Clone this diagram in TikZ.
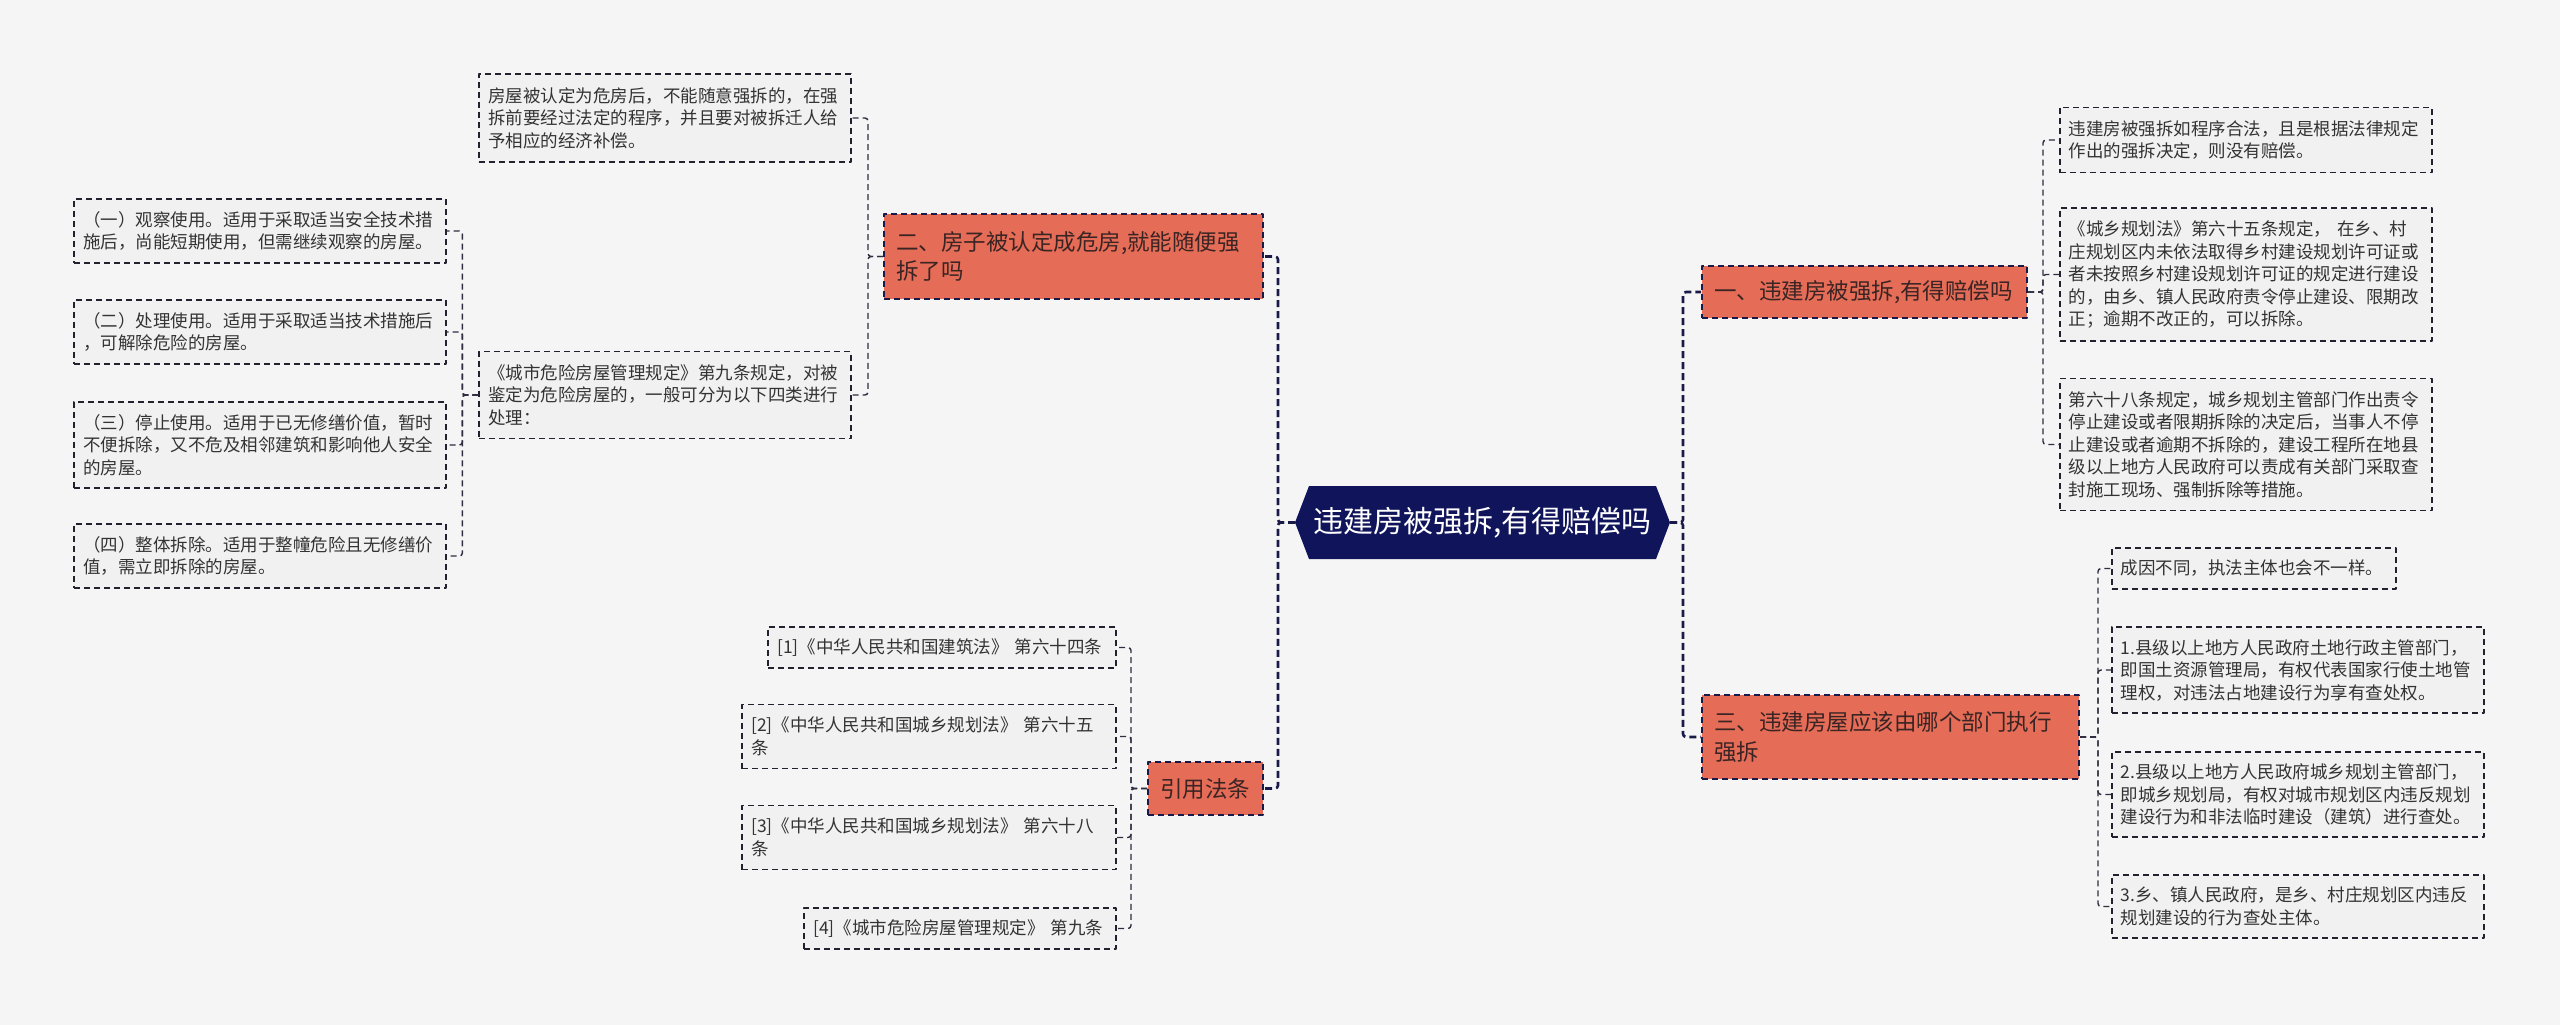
\documentclass[tikz,border=0pt]{standalone}
\usepackage{fontspec}
\setmainfont{Noto Sans CJK SC}
\definecolor{pagebg}{HTML}{F5F5F5}
\definecolor{hubbg}{HTML}{10145A}
\definecolor{branchbg}{HTML}{E56C56}
\definecolor{branchtext}{HTML}{3A2424}
\definecolor{leafbg}{HTML}{F1F1F1}
\definecolor{leafline}{HTML}{22222E}
\definecolor{leaftext}{HTML}{333333}
\definecolor{trunkline}{HTML}{1A1A48}
\definecolor{twigline}{HTML}{2E2E40}
\begin{document}
\begin{tikzpicture}[x=1pt,y=-1pt,line join=round,
    hub/.style={text=white,font=\fontsize{30}{36}\selectfont,minimum width=375pt,minimum height=73pt,inner sep=0pt,outer sep=0pt},
    branch/.style={draw=trunkline,line width=2pt,dash pattern=on 6pt off 4pt,fill=branchbg,text=branchtext,
      font=\fontsize{22.5}{29.5}\selectfont,align=left,inner xsep=12pt,inner ysep=0pt},
    leaf/.style={draw=leafline,line width=1.6pt,dash pattern=on 6pt off 4pt,fill=leafbg,text=leaftext,
      font=\fontsize{17.5}{22.5}\selectfont,align=left,inner xsep=9pt,inner ysep=0pt},
    trunk/.style={draw=trunkline,line width=2.6pt,dash pattern=on 7pt off 4pt,rounded corners=3pt},
    twig/.style={draw=twigline,line width=1.4pt,dash pattern=on 6pt off 4pt,rounded corners=3pt}]
\path[use as bounding box,fill=pagebg] (0,0) rectangle (2560,1025);
\coordinate (mid) at (1482.5,522.5);
\fill[hubbg] (mid) ++(-187.5,0) -- ++(14,-36.5) -- ++(347,0) -- ++(14,36.5) -- ++(-14,36.5) -- ++(-347,0) -- cycle;
\node[hub] (hub) at (mid) {违建房被强拆,有得赔偿吗};

\node[branch,text width=355pt,minimum height=85,anchor=east] (b2) at (1264,256.5) {二、房子被认定成危房,就能随便强\\拆了吗};
\node[branch,text width=91pt,minimum height=53,anchor=east] (b4) at (1264,788.5) {引用法条};
\node[branch,text width=301pt,minimum height=52,anchor=west] (b1) at (1701,292) {一、违建房被强拆,有得赔偿吗};
\node[branch,text width=353pt,minimum height=84,anchor=west] (b3) at (1701,737) {三、违建房屋应该由哪个部门执行\\强拆};

\node[leaf,text width=354pt,minimum height=88,anchor=east] (t1) at (852,118) {房屋被认定为危房后，不能随意强拆的，在强\\拆前要经过法定的程序，并且要对被拆迁人给\\予相应的经济补偿。};
\node[leaf,text width=354pt,minimum height=87,anchor=east] (t2) at (852,395) {《城市危险房屋管理规定》第九条规定，对被\\鉴定为危险房屋的，一般可分为以下四类进行\\处理：};
\node[leaf,text width=354pt,minimum height=64,anchor=east] (f1) at (447,231) {（一）观察使用。适用于采取适当安全技术措\\施后，尚能短期使用，但需继续观察的房屋。};
\node[leaf,text width=354pt,minimum height=64,anchor=east] (f2) at (447,332) {（二）处理使用。适用于采取适当技术措施后\\，可解除危险的房屋。};
\node[leaf,text width=354pt,minimum height=86,anchor=east] (f3) at (447,445) {（三）停止使用。适用于已无修缮价值，暂时\\不便拆除，又不危及相邻建筑和影响他人安全\\的房屋。};
\node[leaf,text width=354pt,minimum height=64,anchor=east] (f4) at (447,556) {（四）整体拆除。适用于整幢危险且无修缮价\\值，需立即拆除的房屋。};

\node[leaf,text width=330pt,minimum height=41,anchor=east] (c1) at (1117,647.5) {[1]《中华人民共和国建筑法》 第六十四条};
\node[leaf,text width=356pt,minimum height=64,anchor=east] (c2) at (1117,736.5) {[2]《中华人民共和国城乡规划法》 第六十五\\条};
\node[leaf,text width=356pt,minimum height=64,anchor=east] (c3) at (1117,837.5) {[3]《中华人民共和国城乡规划法》 第六十八\\条};
\node[leaf,text width=294pt,minimum height=41,anchor=east] (c4) at (1117,928.5) {[4]《城市危险房屋管理规定》 第九条};

\node[leaf,text width=354pt,minimum height=65,anchor=west] (l1) at (2059,140) {违建房被强拆如程序合法，且是根据法律规定\\作出的强拆决定，则没有赔偿。};
\node[leaf,text width=354pt,minimum height=133,anchor=west] (l2) at (2059,274.5) {《城乡规划法》第六十五条规定， 在乡、村\\庄规划区内未依法取得乡村建设规划许可证或\\者未按照乡村建设规划许可证的规定进行建设\\的，由乡、镇人民政府责令停止建设、限期改\\正；逾期不改正的，可以拆除。};
\node[leaf,text width=354pt,minimum height=132,anchor=west] (l3) at (2059,444.5) {第六十八条规定，城乡规划主管部门作出责令\\停止建设或者限期拆除的决定后，当事人不停\\止建设或者逾期不拆除的，建设工程所在地县\\级以上地方人民政府可以责成有关部门采取查\\封施工现场、强制拆除等措施。};

\node[leaf,text width=266pt,minimum height=41,anchor=west] (r1) at (2111,568.5) {成因不同，执法主体也会不一样。};
\node[leaf,text width=354pt,minimum height=86,anchor=west] (r2) at (2111,670) {1.县级以上地方人民政府土地行政主管部门，\\即国土资源管理局，有权代表国家行使土地管\\理权，对违法占地建设行为享有查处权。};
\node[leaf,text width=354pt,minimum height=85,anchor=west] (r3) at (2111,794.5) {2.县级以上地方人民政府城乡规划主管部门，\\即城乡规划局，有权对城市规划区内违反规划\\建设行为和非法临时建设（建筑）进行查处。};
\node[leaf,text width=354pt,minimum height=63,anchor=west] (r4) at (2111,906.5) {3.乡、镇人民政府，是乡、村庄规划区内违反\\规划建设的行为查处主体。};

\foreach \k in {b2,b4} \draw[trunk] (hub.west) -- ++(-17,0) |- (\k.east);
\foreach \k in {b1,b3} \draw[trunk] (hub.east) -- ++(13,0) |- (\k.west);
\foreach \k in {t1,t2} \draw[twig] (b2.west) -- ++(-15,0) |- (\k.east);
\foreach \k in {f1,f2,f3,f4} \draw[twig] (t2.west) -- ++(-16,0) |- (\k.east);
\foreach \k in {c1,c2,c3,c4} \draw[twig] (b4.west) -- ++(-16,0) |- (\k.east);
\foreach \k in {l1,l2,l3} \draw[twig] (b1.east) -- ++(15,0) |- (\k.west);
\foreach \k in {r1,r2,r3,r4} \draw[twig] (b3.east) -- ++(18,0) |- (\k.west);
\end{tikzpicture}
\end{document}
